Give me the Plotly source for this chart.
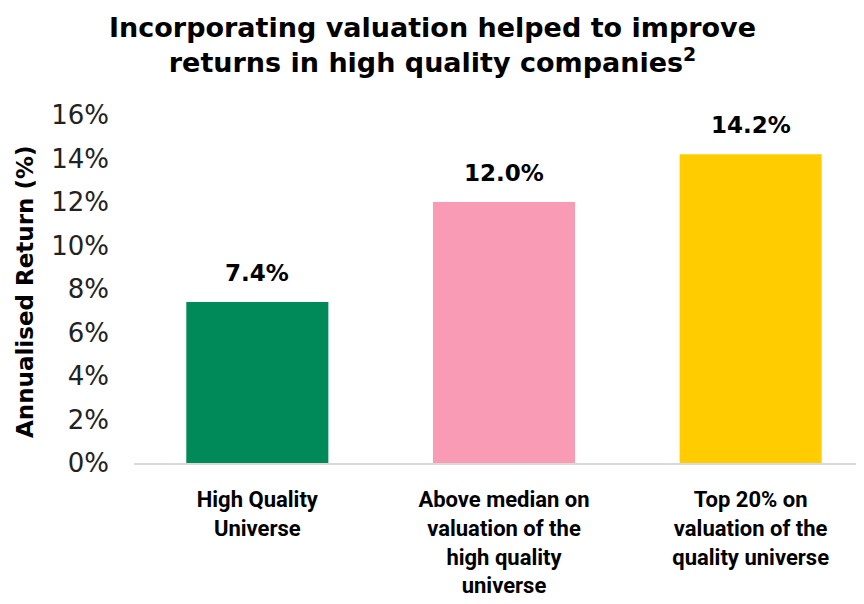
import plotly.graph_objects as go

categories = ["High Quality<br>Universe",
              "Above median on<br>valuation of the<br>high quality<br>universe",
              "Top 20% on<br>valuation of the<br>quality universe"]
values = [7.4, 12.0, 14.2]
colors = ["#008A5A", "#F99BB5", "#FFCC00"]
y_ticks = [0, 2, 4, 6, 8, 10, 12, 14, 16]

WIDE = "DejaVu Sans"
COND = "Liberation Sans Narrow, Roboto"

xs = list(range(len(categories)))

fig = go.Figure(go.Bar(
    x=xs, y=values,
    marker=dict(color=colors, line=dict(width=0)),
    width=0.576,
    hoverinfo="skip",
))

annotations = [
    dict(
        text="<b>Incorporating valuation helped to improve<br>returns in high quality companies<sup>2</sup></b>",
        xref="paper", yref="paper", x=0.405, y=1.10, xanchor="center", yanchor="bottom",
        showarrow=False, align="center",
        font=dict(family=WIDE, size=27, color="#000000"),
    ),
    dict(
        text="<b>Annualised Return (%)</b>", textangle=-90,
        xref="paper", yref="paper", x=-0.147, y=0.49, xanchor="center", yanchor="middle",
        showarrow=False,
        font=dict(family=WIDE, size=23, color="#000000"),
    ),
]
for xi, v in zip(xs, values):
    annotations.append(dict(
        x=xi, y=v, xref="x", yref="y", text=f"<b>{v:.1f}%</b>",
        showarrow=False, yanchor="bottom", yshift=14,
        font=dict(family=WIDE, size=23, color="#000000"),
    ))

fig.update_layout(
    width=864, height=604,
    margin=dict(l=126, r=0, t=107, b=149),
    paper_bgcolor="white", plot_bgcolor="white",
    showlegend=False,
    font=dict(family=WIDE, color="#222222"),
    annotations=annotations,
)

fig.update_xaxes(
    tickmode="array", tickvals=xs, ticktext=[f"<b>{c}</b>" for c in categories],
    range=[-0.5, 2.492],
    showline=True, linecolor="#D9D9D9", linewidth=2,
    ticks="", tickfont=dict(family=COND, size=22, color="#000000"),
    ticklabelstandoff=16,
    showgrid=False, zeroline=False, automargin=False,
)
fig.update_yaxes(
    range=[0, 16], tickvals=y_ticks, ticktext=[f"{t}%" for t in y_ticks],
    showgrid=False, zeroline=False, showline=False,
    tickfont=dict(family=WIDE, size=26, color="#222222"),
    ticklabelstandoff=24,
    automargin=False,
)

fig.write_html("out.html")
